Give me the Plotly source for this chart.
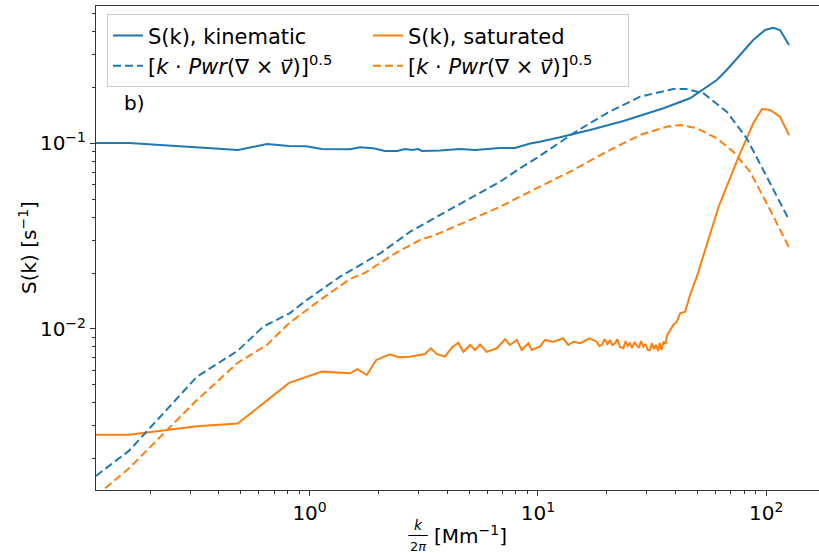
import plotly.graph_objects as go

# wavenumber k/2pi [1/Mm] and S(k) [1/s]
kin_k = [0.116, 0.162, 0.486, 0.651, 0.813, 0.966, 1.134, 1.504, 1.665, 1.90,
         2.14, 2.42, 2.62, 2.81, 2.99, 3.11, 3.73, 4.56, 5.31, 6.83, 7.94,
         9.25, 10.2, 12.5, 16.9, 23.7, 35.5, 46.4, 60.8, 67.2, 87.8, 98.9,
         107.5, 115, 126]
kin_s = [0.1007, 0.1007, 0.0922, 0.0994, 0.0969, 0.0966, 0.0934, 0.0931,
         0.0954, 0.0942, 0.0911, 0.0911, 0.0934, 0.0923, 0.0934, 0.0911,
         0.0917, 0.0934, 0.0923, 0.0946, 0.0946, 0.1000, 0.1023, 0.1080,
         0.1183, 0.1322, 0.1548, 0.1753, 0.220, 0.249, 0.361, 0.409, 0.421,
         0.409, 0.340]

kin_curl_k = [0.116, 0.162, 0.321, 0.485, 0.626, 0.821, 0.972, 1.36, 2.04,
              2.76, 3.73, 5.05, 6.83, 8.35, 10.2, 14.3, 20.0, 28.0, 39.2,
              44.9, 53.1, 67.2, 82.2, 100.6, 126]
kin_curl_s = [0.001614, 0.002208, 0.00553, 0.00764, 0.01029, 0.01219,
              0.01433, 0.01914, 0.0256, 0.03346, 0.0412, 0.0507, 0.0622,
              0.0735, 0.0856, 0.1135, 0.1455, 0.1788, 0.1967, 0.1964, 0.1865,
              0.1484, 0.1067, 0.0662, 0.0387]

sat_k = [0.116, 0.162, 0.321, 0.485, 0.813, 1.134, 1.504, 1.62, 1.78, 1.96,
         2.25, 2.45, 2.75, 3.20, 3.40, 3.61, 3.92, 4.20, 4.48, 4.72, 5.05,
         5.31, 5.58, 5.97, 6.61, 7.18, 7.55, 8.09, 8.50, 9.09, 9.40, 10.2,
         10.75, 11.7, 12.9, 13.6, 14.3, 15.3, 16.9, 18.1, 18.6, 19.05, 19.6,
         20.2, 20.7, 21.2, 21.8, 22.3, 22.9, 23.7, 24.2, 24.8, 25.3, 25.9,
         26.5, 27.1, 27.7, 28.3, 29.0, 29.6, 30.3, 31.0, 31.6, 32.2, 32.9,
         33.7, 34.2, 34.8, 35.5, 36.2, 36.8, 37.3, 39.2, 40.6, 42.0, 44.2,
         46.4, 49.7, 61.9, 75.8, 87.8, 95.9, 104, 115, 126]
sat_s = [0.00269, 0.00269, 0.00299, 0.00309, 0.00512, 0.00589, 0.00577,
         0.00607, 0.00565, 0.00681, 0.00730, 0.00704, 0.00709, 0.00733,
         0.00787, 0.00731, 0.00710, 0.00796, 0.00844, 0.00754, 0.00820,
         0.00770, 0.00825, 0.00752, 0.00787, 0.00880, 0.00820, 0.00873,
         0.00770, 0.00838, 0.00770, 0.00803, 0.00873, 0.00854, 0.00891,
         0.00820, 0.00854, 0.00838, 0.00891, 0.00854, 0.00810, 0.00820,
         0.00880, 0.00830, 0.00873, 0.00820, 0.00838, 0.00880, 0.00800,
         0.00787, 0.00860, 0.00810, 0.00838, 0.00790, 0.00850, 0.00820,
         0.00790, 0.00860, 0.00803, 0.00830, 0.00770, 0.00770, 0.00840,
         0.00780, 0.00820, 0.00760, 0.00840, 0.00770, 0.00854, 0.00830,
         0.00920, 0.00948, 0.01052, 0.01095, 0.01215, 0.01240, 0.01525,
         0.01914, 0.0456, 0.0849, 0.1285, 0.1535, 0.1516, 0.1394, 0.111]

sat_curl_k = [0.116, 0.162, 0.321, 0.485, 0.650, 0.813, 1.112, 1.504, 1.75,
              2.37, 3.05, 3.55, 5.05, 6.83, 10.2, 14.3, 20.0, 28.0, 36.7,
              42.0, 49.7, 60.8, 71.8, 85.0, 100.6, 126]
sat_curl_s = [0.00126, 0.001774, 0.00414, 0.00658, 0.0082, 0.01074, 0.01433,
              0.0186, 0.0201, 0.0256, 0.0302, 0.0321, 0.0387, 0.0456, 0.0585,
              0.0720, 0.0903, 0.1111, 0.1232, 0.1258, 0.1208, 0.1067, 0.0903,
              0.0705, 0.0476, 0.0275]

x_ticks = [1, 10, 100]
x_ticktext = ['10<sup>0</sup>', '10<sup>1</sup>', '10<sup>2</sup>']
y_ticks = [0.01, 0.1]
y_ticktext = ['10<sup>\u22122</sup>', '10<sup>\u22121</sup>']

BLUE = '#1f77b4'
ORANGE = '#ff7f0e'
FONT = 'DejaVu Sans'
AXIS_COLOR = '#333333'

curl_label = ('[<i>k</i> \u00b7 <i>Pwr</i>(\u2207 \u00d7 <i>v\u20d7</i>)]'
              '<sup>0.5</sup>')

fig = go.Figure()

# order matters: the horizontal legend fills row by row
traces = [
    (kin_k, kin_s, 'S(k), kinematic', BLUE, 'solid'),
    (sat_k, sat_s, 'S(k), saturated', ORANGE, 'solid'),
    (kin_curl_k, kin_curl_s, curl_label, BLUE, '8px,4px'),
    (sat_curl_k, sat_curl_s, curl_label, ORANGE, '8px,4px'),
]
for xs, ys, name, color, dash in traces:
    fig.add_trace(go.Scatter(x=xs, y=ys, mode='lines', name=name,
                             line=dict(color=color, width=2, dash=dash)))

minor_x = [m * 10 ** e for e in range(-1, 3) for m in range(2, 10)]
minor_y = [m * 10 ** e for e in range(-3, 0) for m in range(2, 10)]

axis_common = dict(showgrid=False, zeroline=False, showline=True,
                   linecolor=AXIS_COLOR, linewidth=1, ticks='outside',
                   ticklen=5, tickwidth=1, tickcolor=AXIS_COLOR,
                   automargin=False,
                   tickfont=dict(family=FONT, size=20, color='black'))

fig.update_xaxes(type='log', range=[-0.9355, 2.2315], mirror=True,
                 tickmode='array', tickvals=x_ticks, ticktext=x_ticktext,
                 minor=dict(tickmode='array', tickvals=minor_x,
                            ticks='outside', ticklen=3,
                            tickcolor=AXIS_COLOR, showgrid=False),
                 **axis_common)
fig.update_yaxes(type='log', range=[-2.868, -0.2588],
                 tickmode='array', tickvals=y_ticks, ticktext=y_ticktext,
                 minor=dict(tickmode='array', tickvals=minor_y,
                            ticks='outside', ticklen=3,
                            tickcolor=AXIS_COLOR, showgrid=False),
                 **axis_common)

# x label: k over 2pi, then the unit
fig.add_annotation(text='<i>k</i>', x=0.4454, y=-0.0733, xref='paper',
                   yref='paper', xanchor='center', yanchor='middle',
                   showarrow=False,
                   font=dict(family=FONT, size=14, color='black'))
fig.add_annotation(text='2<i>\u03c0</i>', x=0.4454, y=-0.0965, xref='paper',
                   yref='paper', xanchor='center', yanchor='top',
                   showarrow=False,
                   font=dict(family=FONT, size=13, color='black'))
fig.add_shape(type='line', xref='paper', yref='paper', x0=0.432, x1=0.459,
              y0=-0.094, y1=-0.094, line=dict(color='black', width=1))
fig.add_annotation(text='[Mm<sup>\u22121</sup>]', x=0.465, y=-0.094,
                   xref='paper', yref='paper', xanchor='left',
                   yanchor='middle', showarrow=False,
                   font=dict(family=FONT, size=20, color='black'))

fig.add_annotation(text='S(k) [s<sup>\u22121</sup>]', textangle=-90,
                   x=-0.094, y=0.5, xref='paper', yref='paper',
                   xanchor='center', yanchor='middle', showarrow=False,
                   font=dict(family=FONT, size=20, color='black'))

fig.add_annotation(text='b)', x=0.036, y=0.80, xref='paper', yref='paper',
                   xanchor='left', yanchor='middle', showarrow=False,
                   font=dict(family=FONT, size=20, color='black'))

fig.update_layout(
    width=819, height=553,
    margin=dict(l=96, r=0, t=6, b=63),
    plot_bgcolor='white', paper_bgcolor='white',
    font=dict(family=FONT, size=20, color='black'),
    showlegend=True,
    legend=dict(orientation='h', x=0.0152, y=0.983, xanchor='left',
                yanchor='top', entrywidth=215, entrywidthmode='pixels',
                bgcolor='rgba(255,255,255,0.8)', bordercolor='#cccccc',
                borderwidth=1, font=dict(family=FONT, size=21,
                                         color='black')),
)

fig.write_html('out.html', config={'displayModeBar': False},
               post_script="document.body.style.margin='0';")
